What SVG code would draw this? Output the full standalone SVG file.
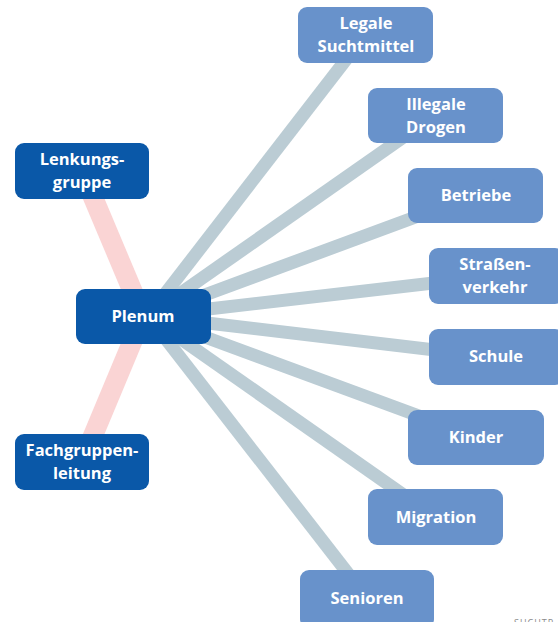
<svg xmlns="http://www.w3.org/2000/svg" width="558" height="622" viewBox="0 0 558 622">
<style>
.dark{fill:#0A58A8}
.light{fill:#6892CB}
.t{font-family:"Open Sans","Liberation Sans",sans-serif;font-weight:bold;font-size:16.5px;fill:#fff;text-anchor:middle}
.g{stroke:#BBCCD4;stroke-width:13;fill:none}
.p{stroke:#FAD4D4;stroke-width:20;fill:none}
.foot{font-family:"Open Sans","Liberation Sans",sans-serif;font-size:9px;fill:#8a8a8a;letter-spacing:1px}
</style>
<rect width="558" height="622" fill="#fff"/>
<g id="connectors">
<line class="p" x1="143" y1="316" x2="82" y2="171"/>
<line class="p" x1="143" y1="316" x2="82" y2="462"/>
<line class="g" x1="148" y1="316" x2="365" y2="35"/>
<line class="g" x1="148" y1="316" x2="435" y2="115"/>
<line class="g" x1="148" y1="316" x2="475" y2="195"/>
<line class="g" x1="148" y1="316" x2="494" y2="276"/>
<line class="g" x1="148" y1="316" x2="494" y2="357"/>
<line class="g" x1="148" y1="316" x2="476" y2="437"/>
<line class="g" x1="148" y1="316" x2="435" y2="517"/>
<line class="g" x1="148" y1="316" x2="367" y2="598"/>
</g>
<g id="lenkungsgruppe"><rect class="dark" x="15" y="143" width="134" height="56" rx="9"/><text class="t" x="82" y="165">Lenkungs-</text><text class="t" x="82" y="188">gruppe</text></g>
<g id="plenum"><rect class="dark" x="76" y="289" width="135" height="55" rx="9"/><text class="t" x="143" y="322">Plenum</text></g>
<g id="fachgruppenleitung"><rect class="dark" x="15" y="434" width="134" height="56" rx="9"/><text class="t" x="82" y="456">Fachgruppen-</text><text class="t" x="82" y="479">leitung</text></g>
<g id="legale"><rect class="light" x="298" y="7" width="135" height="56" rx="9"/><text class="t" x="366" y="29">Legale</text><text class="t" x="366" y="52">Suchtmittel</text></g>
<g id="illegale"><rect class="light" x="368" y="88" width="135" height="55" rx="9"/><text class="t" x="436" y="110">Illegale</text><text class="t" x="436" y="133">Drogen</text></g>
<g id="betriebe"><rect class="light" x="408" y="168" width="135" height="55" rx="9"/><text class="t" x="476" y="201">Betriebe</text></g>
<g id="strassenverkehr"><rect class="light" x="429" y="248" width="135" height="56" rx="9"/><text class="t" x="495" y="270">Straßen-</text><text class="t" x="495" y="293">verkehr</text></g>
<g id="schule"><rect class="light" x="429" y="329" width="135" height="56" rx="9"/><text class="t" x="496" y="362">Schule</text></g>
<g id="kinder"><rect class="light" x="408" y="410" width="136" height="55" rx="9"/><text class="t" x="476" y="443">Kinder</text></g>
<g id="migration"><rect class="light" x="368" y="489" width="135" height="56" rx="9"/><text class="t" x="436" y="523">Migration</text></g>
<g id="senioren"><rect class="light" x="300" y="570" width="134" height="58" rx="9"/><text class="t" x="367" y="604">Senioren</text></g>
<text class="foot" x="514" y="625.5">SUCHTP</text>
</svg>
